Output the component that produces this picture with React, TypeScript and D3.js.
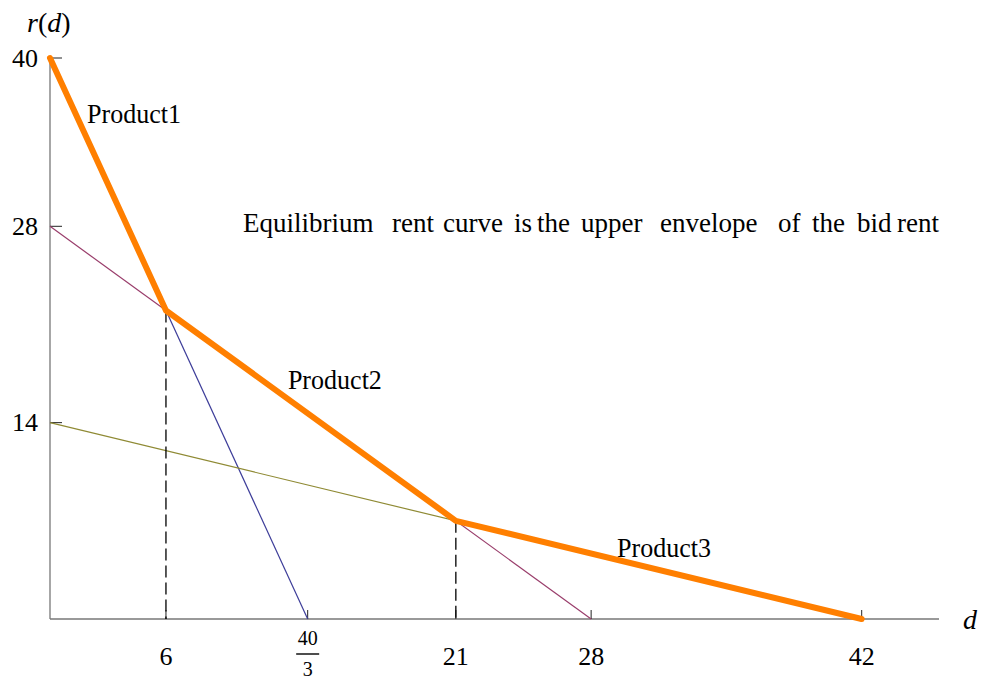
import React from "react";
import * as d3 from "d3";

const bidRents = [
  { name: "Product1", start: 40, end: 40 / 3, color: "#3d3d99" },
  { name: "Product2", start: 28, end: 28, color: "#993d6b" },
  { name: "Product3", start: 14, end: 42, color: "#8f8a34" },
];
const envelope: [number, number][] = [[0, 40], [6, 22], [21, 7], [42, 0]];
const breakpoints: [number, number][] = [[6, 22], [21, 7]];
const xTicks = [6, 40 / 3, 21, 28, 42];
const yTicks = [14, 28, 40];
const productLabels = [
  { text: "Product1", d: 1.92, r: 35.37 },
  { text: "Product2", d: 12.31, r: 16.4 },
  { text: "Product3", d: 29.34, r: 4.42 },
];
const noteWords = ["Equilibrium", "rent", "curve", "is", "the", "upper", "envelope", "of", "the", "bid", "rent"];
const noteWordX = [243, 392, 443, 514, 537, 581, 660, 778, 812, 857, 897];

const W = 982, H = 679;
const x = d3.scaleLinear().domain([0, 46]).range([50, 939]);
const y = d3.scaleLinear().domain([0, 40]).range([619, 58]);
const line = d3.line<[number, number]>().x(p => x(p[0])).y(p => y(p[1]));
const font = "'Liberation Serif', 'Times New Roman', serif";

export default function App() {
  return (
    <svg width={W} height={H} style={{ position: "absolute", left: 0, top: 0, background: "#fff" }} fontFamily={font}>
      {/* axes */}
      <line x1={x(0)} x2={x(46)} y1={y(0)} y2={y(0)} stroke="#777" strokeWidth={1.3} />
      <line x1={x(0)} x2={x(0)} y1={y(0)} y2={y(40)} stroke="#777" strokeWidth={1.3} />
      {xTicks.map((t, i) => (
        <line key={"xt" + i} x1={x(t)} x2={x(t)} y1={y(0)} y2={y(0) - 9} stroke="#222" strokeWidth={1} />
      ))}
      {yTicks.map((t, i) => (
        <line key={"yt" + i} x1={x(0)} x2={x(0) + 12} y1={y(t)} y2={y(t)} stroke="#222" strokeWidth={1} />
      ))}
      {/* bid rent lines */}
      {bidRents.map(b => (
        <path key={b.name} d={line([[0, b.start], [b.end, 0]]) || ""} stroke={b.color} strokeWidth={1.2} fill="none" />
      ))}
      {/* dashed drop lines */}
      {breakpoints.map((p, i) => (
        <line key={"dl" + i} x1={x(p[0])} x2={x(p[0])} y1={y(p[1])} y2={y(0)} stroke="#000" strokeWidth={1.3} strokeDasharray="12,5" />
      ))}
      {/* envelope */}
      <path d={line(envelope) || ""} stroke="#ff7f00" strokeWidth={6} fill="none" strokeLinejoin="round" strokeLinecap="round" />
      {/* tick labels */}
      {xTicks.map((t, i) =>
        Math.abs(t - 40 / 3) < 1e-9 ? (
          <g key={"xl" + i}>
            <text x={x(t)} y={645} fontSize={20} textAnchor="middle">40</text>
            <line x1={x(t) - 11.5} x2={x(t) + 11.5} y1={654} y2={654} stroke="#000" strokeWidth={1.4} />
            <text x={x(t)} y={676} fontSize={20} textAnchor="middle">3</text>
          </g>
        ) : (
          <text key={"xl" + i} x={x(t)} y={665} fontSize={26} textAnchor="middle">{t}</text>
        )
      )}
      {yTicks.map((t, i) => (
        <text key={"yl" + i} x={38} y={y(t) + 8.5} fontSize={26} textAnchor="end">{t}</text>
      ))}
      {/* axis titles */}
      <text x={27} y={32} fontSize={28}>
        <tspan fontStyle="italic">r</tspan>(<tspan fontStyle="italic">d</tspan>)
      </text>
      <text x={963} y={629} fontSize={28} fontStyle="italic">d</text>
      {/* product labels */}
      {productLabels.map(l => (
        <text key={l.text} x={x(l.d)} y={y(l.r)} fontSize={28} textLength={94} lengthAdjust="spacingAndGlyphs">{l.text}</text>
      ))}
      {noteWords.map((w, i) => (
        <text key={"n" + i} x={noteWordX[i]} y={232} fontSize={27}>{w}</text>
      ))}
    </svg>
  );
}
